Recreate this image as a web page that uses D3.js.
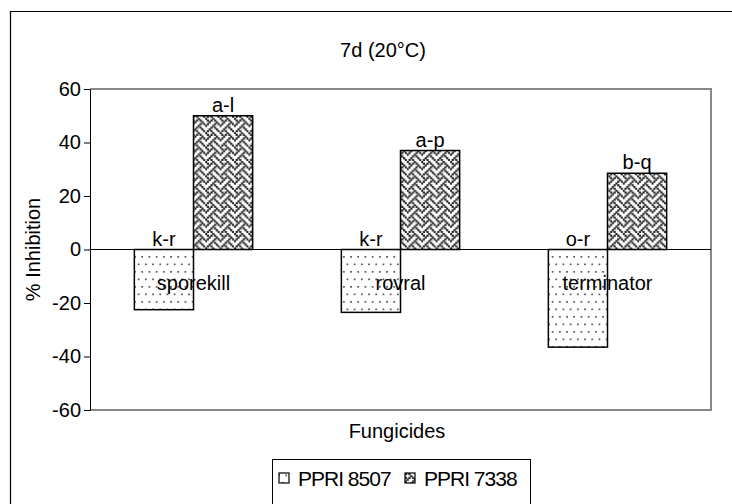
<!DOCTYPE html>
<html>
<head>
<meta charset="utf-8">
<script src="https://cdn.jsdelivr.net/npm/d3@7"></script>
<style>
  body { margin: 0; background: #fff; }
  svg text { font-family: "Liberation Sans", Arial, sans-serif; fill: #000; }
</style>
</head>
<body>
<svg width="732" height="504"></svg>
<script>
// data
var categories = ["sporekill", "rovral", "terminator"];
var seriesNames = ["PPRI 8507", "PPRI 7338"];
var ppri8507 = [-22.5, -23.5, -36.5];
var ppri7338 = [50, 37, 28.5];
var labels8507 = ["k-r", "k-r", "o-r"];
var labels7338 = ["a-l", "a-p", "b-q"];
var yTicks = [-60, -40, -20, 0, 20, 40, 60];

var svg = d3.select("svg");
var margin = { top: 89, right: 21, bottom: 94, left: 90 },
  width = 732 - margin.left - margin.right,
  height = 504 - margin.top - margin.bottom;
var fontSize = "20px";

// patterns
var defs = svg.append("defs");
var dots = defs.append("pattern")
  .attr("id", "dots").attr("patternUnits", "userSpaceOnUse")
  .attr("width", 7.2).attr("height", 15);
dots.append("rect").attr("width", 7.2).attr("height", 15).attr("fill", "#fff");
dots.append("rect").attr("x", 1).attr("y", 2).attr("width", 1.7).attr("height", 1.7).attr("fill", "#555");
dots.append("rect").attr("x", 4.6).attr("y", 9.5).attr("width", 1.7).attr("height", 1.7).attr("fill", "#555");

// weave bitmap, 8x8 cells
var weaveRows = ["10001000", "01010100", "00100010", "01000101",
                 "10001000", "00010100", "00100010", "01010001"];
var cell = 1.8;
var weave = defs.append("pattern")
  .attr("id", "weave").attr("patternUnits", "userSpaceOnUse")
  .attr("width", 8 * cell).attr("height", 8 * cell);
weave.append("rect").attr("width", 8 * cell).attr("height", 8 * cell).attr("fill", "#fff");
weaveRows.forEach(function(row, r) {
  row.split("").forEach(function(b, c) {
    if (b === "1") {
      weave.append("rect")
        .attr("x", c * cell - 0.2).attr("y", r * cell - 0.2)
        .attr("width", cell + 0.4).attr("height", cell + 0.4)
        .attr("fill", "#222");
    }
  });
});

var fills = ["url(#dots)", "url(#weave)"];

// outer frame
svg.append("path")
  .attr("d", "M10.5,740 L10.5,11.5 L740,11.5")
  .attr("fill", "none").attr("stroke", "#000").attr("stroke-width", 1.2);

var g = svg.append("g")
  .attr("transform", "translate(" + margin.left + "," + margin.top + ")");

var x = d3.scaleBand().domain(categories).range([0, width]).paddingInner(0).paddingOuter(0);
var y = d3.scaleLinear().domain([-60, 60]).range([height, 0]);
var barW = x.bandwidth() / 3.5;

// plot frame (gray)
g.append("path")
  .attr("d", "M0," + y(60) + " H" + width + " V" + y(-60) + " H0")
  .attr("fill", "none").attr("stroke", "#888").attr("stroke-width", 2);

// bars
var series = [ppri8507, ppri7338];
var seriesLabels = [labels8507, labels7338];
series.forEach(function(vals, si) {
  g.selectAll(".bar" + si)
    .data(vals)
    .enter().append("rect")
    .attr("x", function(d, i) { return x(categories[i]) + x.bandwidth() / 2 - barW + si * barW; })
    .attr("y", function(d) { return y(Math.max(0, d)); })
    .attr("width", barW)
    .attr("height", function(d) { return Math.abs(y(d) - y(0)); })
    .attr("fill", fills[si])
    .attr("stroke", "#000").attr("stroke-width", 1.5);

  g.selectAll(".lab" + si)
    .data(vals)
    .enter().append("text")
    .attr("x", function(d, i) { return x(categories[i]) + x.bandwidth() / 2 - barW / 2 + si * barW; })
    .attr("y", function(d) { return y(Math.max(0, d)) - 4; })
    .attr("text-anchor", "middle")
    .style("font-size", fontSize)
    .text(function(d, i) { return seriesLabels[si][i]; });
});

// zero line
g.append("line")
  .attr("x1", 0).attr("x2", width)
  .attr("y1", y(0)).attr("y2", y(0))
  .attr("stroke", "#000").attr("stroke-width", 1);

// category labels
g.selectAll(".cat")
  .data(categories)
  .enter().append("text")
  .attr("x", function(d) { return x(d) + x.bandwidth() / 2; })
  .attr("y", y(0) + 40)
  .attr("text-anchor", "middle")
  .style("font-size", fontSize)
  .text(function(d) { return d; });

// y axis
var yAxis = g.append("g")
  .call(d3.axisLeft(y).tickValues(yTicks).tickSize(6).tickPadding(3).tickSizeOuter(0)
    .tickFormat(function(d) { return String(d); }));
yAxis.select(".domain").attr("stroke", "#000").attr("stroke-width", 1);
yAxis.selectAll("text").style("font-size", fontSize).attr("font-family", "Liberation Sans, Arial, sans-serif");

// titles
svg.append("text")
  .attr("x", 383).attr("y", 57)
  .attr("text-anchor", "middle")
  .style("font-size", fontSize)
  .text("7d (20°C)");

svg.append("text")
  .attr("transform", "translate(40," + (margin.top + y(0)) + ") rotate(-90)")
  .attr("text-anchor", "middle")
  .style("font-size", fontSize)
  .text("% Inhibition");

svg.append("text")
  .attr("x", 397).attr("y", 438)
  .attr("text-anchor", "middle")
  .style("font-size", fontSize)
  .text("Fungicides");

// legend
var legend = svg.append("g");
legend.append("rect")
  .attr("x", 272.5).attr("y", 459.5).attr("width", 258).attr("height", 60)
  .attr("fill", "#fff").attr("stroke", "#000").attr("stroke-width", 1);
var legX = [279, 405];
seriesNames.forEach(function(name, i) {
  legend.append("rect")
    .attr("x", legX[i]).attr("y", 473).attr("width", 10).attr("height", 10)
    .attr("fill", fills[i]).attr("stroke", "#000").attr("stroke-width", 1.2);
  legend.append("text")
    .attr("x", legX[i] + 19).attr("y", 486)
    .style("font-size", "21px")
    .style("letter-spacing", "-1px")
    .text(name);
});
</script>
</body>
</html>
